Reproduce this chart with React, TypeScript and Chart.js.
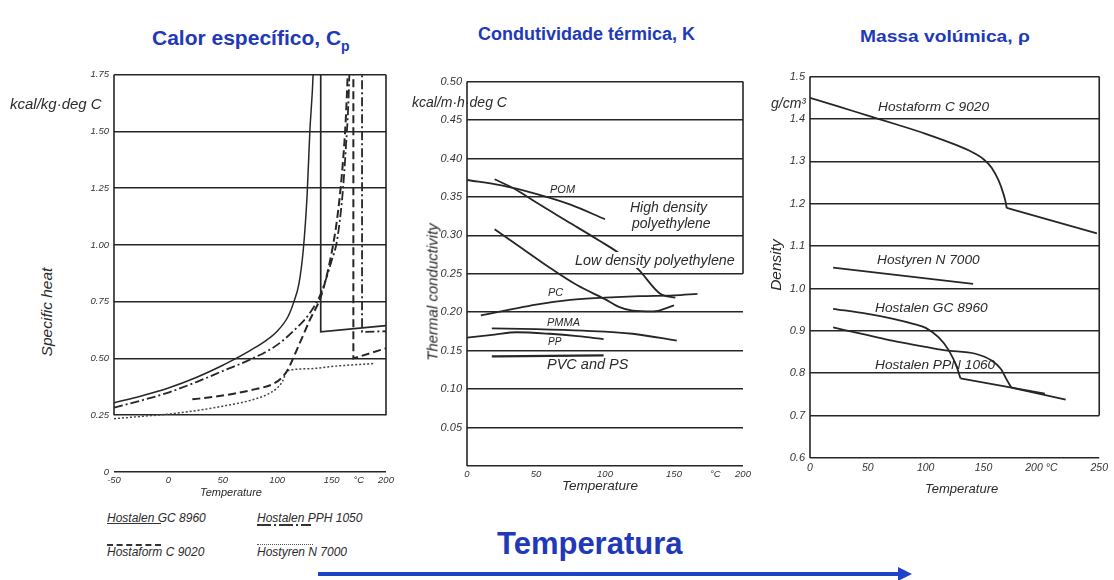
import React, { useEffect, useRef } from "react";
import { Chart, registerables } from "chart.js";

Chart.register(...registerables);

// ---------- Panel 1: specific heat (kcal/kg·deg C) vs temperature (°C) ----------
const cpGC8960T = [-50, -25, 0, 25, 50, 60, 75, 90, 100, 110, 115, 120, 124, 127.5, 130, 133, 135];
const cpGC8960V = [0.305, 0.335, 0.37, 0.415, 0.47, 0.495, 0.535, 0.58, 0.62, 0.685, 0.745, 0.83, 0.98, 1.22, 1.5, 1.75, 2.1];
const cpGC8960MeltT = [140, 140, 200];
const cpGC8960MeltV = [2.1, 0.617, 0.645];

const cpPPH1050T = [-50, -25, 0, 25, 50, 75, 100, 120, 130, 140, 150, 155, 160, 163, 166, 168];
const cpPPH1050V = [0.283, 0.315, 0.35, 0.395, 0.445, 0.495, 0.56, 0.645, 0.7, 0.785, 0.93, 1.02, 1.22, 1.42, 1.7, 2.1];
const cpPPH1050MeltT = [178, 178, 200];
const cpPPH1050MeltV = [2.1, 0.617, 0.62];

const cpC9020T = [22, 40, 60, 80, 95, 103, 109, 120, 130, 141, 151, 156, 160.5, 163, 165, 167];
const cpC9020V = [0.32, 0.33, 0.345, 0.365, 0.385, 0.41, 0.445, 0.56, 0.67, 0.785, 0.99, 1.15, 1.37, 1.55, 1.78, 2.1];
const cpC9020MeltT = [170, 170, 200];
const cpC9020MeltV = [2.1, 0.5, 0.545];

const cpN7000T = [-50, -25, 0, 25, 50, 75, 90, 100, 105, 109, 130, 150, 170, 190];
const cpN7000V = [0.235, 0.245, 0.255, 0.27, 0.29, 0.315, 0.34, 0.37, 0.4, 0.445, 0.455, 0.465, 0.472, 0.478];

// ---------- Panel 2: thermal conductivity (kcal/m·h·deg C) ----------
const kPOMT = [0, 25, 50, 75, 100];
const kPOMV = [0.372, 0.365, 0.354, 0.34, 0.321];
const kHDPET = [20, 35, 50, 72, 96, 110, 124, 140, 151];
const kHDPEV = [0.373, 0.36, 0.343, 0.319, 0.293, 0.277, 0.256, 0.224, 0.219];
const kLDPET = [20, 40, 60, 80, 100, 110, 120, 135, 150];
const kLDPEV = [0.308, 0.283, 0.258, 0.235, 0.217, 0.207, 0.202, 0.201, 0.209];
const kPCT = [10, 30, 50, 75, 100, 125, 150, 167];
const kPCV = [0.196, 0.203, 0.21, 0.216, 0.219, 0.221, 0.222, 0.224];
const kPMMAT = [18, 50, 84, 120, 152];
const kPMMAV = [0.179, 0.178, 0.176, 0.172, 0.163];
const kPPT = [0, 20, 36, 60, 80, 99];
const kPPV = [0.167, 0.171, 0.174, 0.172, 0.169, 0.165];
const kPVCPST = [18, 99];
const kPVCPSV = [0.1425, 0.144];

// ---------- Panel 3: density (g/cm³) ----------
const rhoC9020T = [0, 25, 50, 75, 100, 125, 140, 150, 157, 163, 167, 169, 170];
const rhoC9020V = [1.45, 1.429, 1.408, 1.387, 1.365, 1.34, 1.322, 1.305, 1.285, 1.255, 1.225, 1.205, 1.19];
const rhoC9020MeltT = [170, 248];
const rhoC9020MeltV = [1.19, 1.13];
const rhoN7000T = [20, 141];
const rhoN7000V = [1.049, 1.011];
const rhoGC8960T = [20, 50, 71, 90, 100, 111, 120, 127, 130];
const rhoGC8960V = [0.952, 0.94, 0.929, 0.916, 0.907, 0.885, 0.854, 0.814, 0.788];
const rhoGC8960MeltT = [130, 203];
const rhoGC8960MeltV = [0.788, 0.752];
const rhoPPN1060T = [20, 50, 71, 100, 117, 143, 157, 165, 170, 174];
const rhoPPN1060V = [0.908, 0.89, 0.877, 0.862, 0.854, 0.846, 0.83, 0.81, 0.785, 0.766];
const rhoPPN1060MeltT = [174, 221];
const rhoPPN1060MeltV = [0.766, 0.738];

const INK = "#262626";
const BLUE = "#2139b8";
const SANS = "'Liberation Sans', Arial, Helvetica, sans-serif";

const pts = (xs: number[], ys: number[]) => xs.map((x, i) => ({ x, y: ys[i] }));

function line(xs: number[], ys: number[], extra: any = {}) {
  return {
    data: pts(xs, ys),
    borderColor: INK,
    borderWidth: 1.8,
    pointRadius: 0,
    fill: false,
    cubicInterpolationMode: "monotone",
    ...extra,
  };
}

function framePlugin(id: string, left: [number, number], right: [number, number]) {
  return {
    id,
    afterDatasetsDraw(chart: any) {
      const { ctx, scales } = chart;
      const x = scales.x;
      const y = scales.y;
      ctx.save();
      ctx.strokeStyle = INK;
      ctx.lineWidth = 1.6;
      ctx.beginPath();
      ctx.moveTo(x.left, y.getPixelForValue(left[0]));
      ctx.lineTo(x.left, y.getPixelForValue(left[1]));
      ctx.moveTo(x.right, y.getPixelForValue(right[0]));
      ctx.lineTo(x.right, y.getPixelForValue(right[1]));
      ctx.stroke();
      ctx.restore();
    },
  };
}

type PanelCfg = {
  datasets: any[];
  xMin: number; xMax: number; xStep: number; xLabel: (v: number) => string;
  yMin: number; yMax: number; yStep: number; yLabel: (v: number) => string;
  yWidth: number; padRight: number; xFont: number; yFont: number; xPad: number;
  frame: any;
};

function buildChart(canvas: HTMLCanvasElement, c: PanelCfg) {
  return new Chart(canvas, {
    type: "line",
    data: { datasets: c.datasets },
    plugins: [c.frame],
    options: {
      animation: false,
      responsive: false,
      maintainAspectRatio: false,
      devicePixelRatio: 1,
      layout: { padding: { left: 0, top: 10, right: c.padRight, bottom: 0 } },
      plugins: { legend: { display: false }, tooltip: { enabled: false } },
      scales: {
        x: {
          type: "linear",
          min: c.xMin,
          max: c.xMax,
          border: { display: false },
          grid: { display: false, drawTicks: false },
          ticks: {
            stepSize: c.xStep,
            autoSkip: false,
            maxRotation: 0,
            padding: c.xPad,
            color: "#333",
            font: { family: SANS, size: c.xFont, style: "italic" },
            callback: (v: any) => c.xLabel(Number(v)),
          },
          afterFit: (s: any) => { s.height = 30; },
        },
        y: {
          type: "linear",
          min: c.yMin,
          max: c.yMax,
          border: { display: false },
          grid: { color: INK, lineWidth: 1.5, drawTicks: false },
          ticks: {
            stepSize: c.yStep,
            autoSkip: false,
            padding: 5,
            color: "#333",
            font: { family: SANS, size: c.yFont, style: "italic" },
            callback: (v: any) => c.yLabel(Number(v)),
          },
          afterFit: (s: any) => { s.width = c.yWidth; },
        },
      },
    } as any,
  });
}

const near = (a: number, b: number) => Math.abs(a - b) < 1e-6;

const abs = (left: number, top: number, extra: React.CSSProperties = {}): React.CSSProperties => ({
  position: "absolute",
  left,
  top,
  whiteSpace: "nowrap",
  lineHeight: 1,
  ...extra,
});

const it = (size: number): React.CSSProperties => ({ fontFamily: SANS, fontStyle: "italic", fontSize: size, color: "#2a2a2a" });

export default function App() {
  const c1 = useRef<HTMLCanvasElement>(null);
  const c2 = useRef<HTMLCanvasElement>(null);
  const c3 = useRef<HTMLCanvasElement>(null);

  useEffect(() => {
    const dash = { borderDash: [8, 4], borderWidth: 2 };
    const dashDot = { borderDash: [9, 3, 2, 3], borderWidth: 1.8 };
    const dotted = { borderDash: [2, 2], borderWidth: 1.5, borderColor: "#444" };
    const straight = { cubicInterpolationMode: "default", tension: 0 };

    const ch1 = buildChart(c1.current!, {
      datasets: [
        line(cpGC8960T, cpGC8960V, { borderWidth: 1.5 }),
        line(cpGC8960MeltT, cpGC8960MeltV, { borderWidth: 1.7, ...straight }),
        line(cpPPH1050T, cpPPH1050V, dashDot),
        line(cpPPH1050MeltT, cpPPH1050MeltV, { ...dashDot, ...straight }),
        line(cpC9020T, cpC9020V, dash),
        line(cpC9020MeltT, cpC9020MeltV, { ...dash, ...straight }),
        line(cpN7000T, cpN7000V, dotted),
      ],
      xMin: -50, xMax: 200, xStep: 25,
      xLabel: (v) => (near(v, 175) ? "°C" : Math.round(v) % 50 === 0 ? String(Math.round(v)) : ""),
      yMin: 0, yMax: 1.75, yStep: 0.25,
      yLabel: (v) => (near(v, 0) ? "0" : v.toFixed(2)),
      yWidth: 54, padRight: 15, xFont: 9.5, yFont: 9.5, xPad: 3,
      frame: framePlugin("frame1", [0.25, 1.75], [0.25, 1.75]),
    });

    const ch2 = buildChart(c2.current!, {
      datasets: [
        line(kPOMT, kPOMV),
        line(kHDPET, kHDPEV),
        line(kLDPET, kLDPEV),
        line(kPCT, kPCV),
        line(kPMMAT, kPMMAV),
        line(kPPT, kPPV),
        line(kPVCPST, kPVCPSV, { borderWidth: 2.2 }),
      ],
      xMin: 0, xMax: 200, xStep: 10,
      xLabel: (v) => {
        const r = Math.round(v);
        if (r === 180) return "°C";
        return r % 50 === 0 ? String(r) : "";
      },
      yMin: 0, yMax: 0.5, yStep: 0.05,
      yLabel: (v) => (near(v, 0) ? "" : v.toFixed(2)),
      yWidth: 50, padRight: 15, xFont: 9.5, yFont: 11, xPad: 3,
      frame: framePlugin("frame2", [0, 0.5], [0.25, 0.5]),
    });

    const ch3 = buildChart(c3.current!, {
      datasets: [
        line(rhoC9020T, rhoC9020V),
        line(rhoC9020MeltT, rhoC9020MeltV, straight),
        line(rhoN7000T, rhoN7000V, straight),
        line(rhoGC8960T, rhoGC8960V),
        line(rhoGC8960MeltT, rhoGC8960MeltV, straight),
        line(rhoPPN1060T, rhoPPN1060V),
        line(rhoPPN1060MeltT, rhoPPN1060MeltV, straight),
      ],
      xMin: 0, xMax: 250, xStep: 50,
      xLabel: (v) => (near(v, 200) ? "200 °C" : String(Math.round(v))),
      yMin: 0.6, yMax: 1.5, yStep: 0.1,
      yLabel: (v) => v.toFixed(1),
      yWidth: 45, padRight: 10, xFont: 10.5, yFont: 11, xPad: 4,
      frame: framePlugin("frame3", [0.6, 1.5], [0.7, 1.5]),
    });

    return () => {
      ch1.destroy();
      ch2.destroy();
      ch3.destroy();
    };
  }, []);

  const legendLine = (style: React.CSSProperties): React.CSSProperties => ({
    position: "absolute",
    height: 0,
    ...style,
  });

  return (
    <div style={{ position: "absolute", left: 0, top: 0, width: 1114, height: 580, background: "#fff", overflow: "hidden" }}>
      <canvas ref={c1} width={341} height={438} style={abs(60, 64, { display: "block" })} />
      <canvas ref={c2} width={341} height={426} style={abs(417, 70, { display: "block" })} />
      <canvas ref={c3} width={347} height={423} style={abs(765, 65, { display: "block" })} />

      {/* titles */}
      <div style={abs(152, 27, { fontFamily: SANS, fontWeight: "bold", fontSize: 21, color: BLUE })}>
        Calor específico, C<sub style={{ fontSize: 14, verticalAlign: -6 }}>p</sub>
      </div>
      <div style={abs(478, 25, { fontFamily: SANS, fontWeight: "bold", fontSize: 18, color: BLUE })}>
        Condutividade térmica, K
      </div>
      <div style={abs(860, 29, { fontFamily: SANS, fontWeight: "bold", fontSize: 16, color: BLUE, transform: "scaleX(1.2)", transformOrigin: "left center" })}>
        Massa volúmica, ρ
      </div>

      {/* panel 1 axis texts */}
      <div style={abs(10, 96, it(15))}>kcal/kg·deg C</div>
      <div style={abs(47, 312, { ...it(15.5), transform: "translate(-50%, -50%) rotate(-90deg)" })}>Specific heat</div>
      <div style={abs(200, 487, it(11))}>Temperature</div>

      {/* panel 2 axis texts */}
      <div style={abs(412, 95, it(14))}>kcal/m·h·deg C</div>
      <div style={abs(432, 292, { ...it(15), transform: "translate(-50%, -50%) rotate(-90deg)" })}>Thermal conductivity</div>
      <div style={abs(562, 479, it(13.5))}>Temperature</div>

      {/* panel 2 curve labels */}
      <div style={abs(550, 184, it(11))}>POM</div>
      <div style={abs(630, 200, it(14))}>High density</div>
      <div style={abs(632, 216, it(14))}>polyethylene</div>
      <div style={abs(573, 252, { ...it(14.3), background: "#fff", padding: "1px 2px" })}>Low density polyethylene</div>
      <div style={abs(548, 287, it(11))}>PC</div>
      <div style={abs(547, 317, it(11))}>PMMA</div>
      <div style={abs(548, 337, it(10))}>PP</div>
      <div style={abs(547, 357, it(14.5))}>PVC and PS</div>

      {/* panel 3 axis texts */}
      <div style={abs(771, 96, it(14))}>g/cm³</div>
      <div style={abs(776, 265, { ...it(15.5), transform: "translate(-50%, -50%) rotate(-90deg)" })}>Density</div>
      <div style={abs(925, 482, it(13))}>Temperature</div>

      {/* panel 3 curve labels */}
      <div style={abs(878, 100, it(13.7))}>Hostaform C 9020</div>
      <div style={abs(877, 253, it(13.7))}>Hostyren N 7000</div>
      <div style={abs(875, 301, it(13.7))}>Hostalen GC 8960</div>
      <div style={abs(875, 358, it(13.7))}>Hostalen PPN 1060</div>

      {/* legend for panel 1 */}
      <div style={abs(107, 512, it(12))}>Hostalen GC 8960</div>
      <div style={legendLine({ left: 107, top: 523, width: 54, borderTop: "1.5px solid #333" })} />
      <div style={abs(257, 512, it(12))}>Hostalen PPH 1050</div>
      <div
        style={legendLine({
          left: 257, top: 524, width: 54, height: 2,
          background: "repeating-linear-gradient(90deg, #333 0 14px, transparent 14px 17px, #333 17px 19px, transparent 19px 22px)",
        })}
      />
      <div style={abs(107, 546, it(12))}>Hostaform C 9020</div>
      <div style={legendLine({ left: 107, top: 544, width: 54, borderTop: "2px dashed #333" })} />
      <div style={abs(257, 546, it(12))}>Hostyren N 7000</div>
      <div style={legendLine({ left: 257, top: 544, width: 56, borderTop: "1.5px dotted #555" })} />

      {/* bottom label and arrow */}
      <div style={abs(497, 528, { fontFamily: SANS, fontWeight: "bold", fontSize: 31, color: BLUE })}>Temperatura</div>
      <div style={{ position: "absolute", left: 318, top: 572, width: 582, height: 4, background: "#1d43c8" }} />
      <div
        style={{
          position: "absolute", left: 898, top: 567, width: 0, height: 0,
          borderTop: "7px solid transparent", borderBottom: "7px solid transparent", borderLeft: "14px solid #1d43c8",
        }}
      />
    </div>
  );
}
